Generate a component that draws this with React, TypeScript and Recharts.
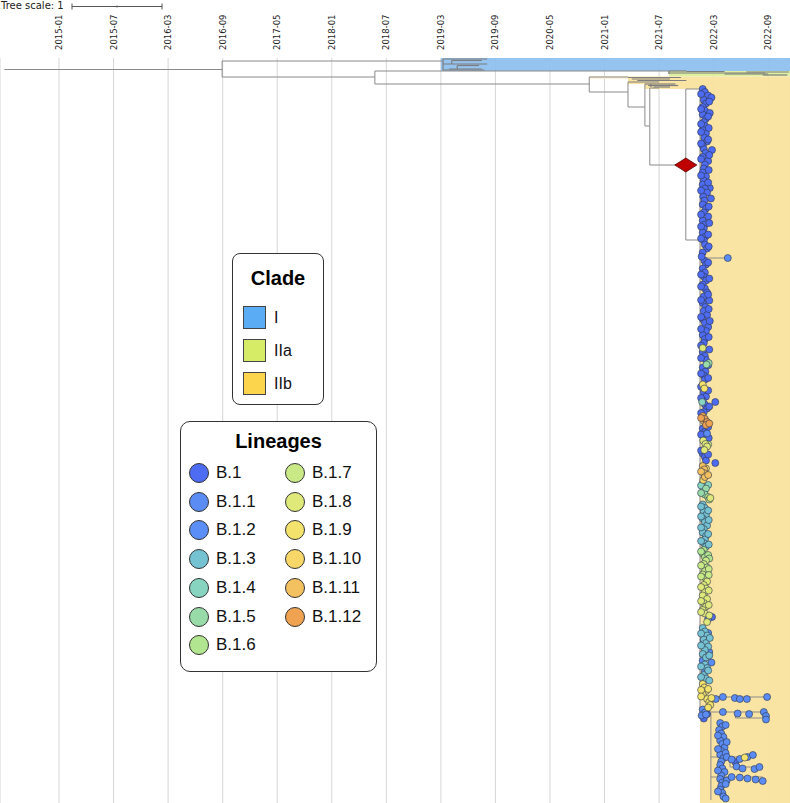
import React from 'react';
import {
  ComposedChart,
  XAxis,
  YAxis,
  CartesianGrid,
  Scatter,
  ReferenceLine,
  ReferenceArea,
  ReferenceDot,
} from 'recharts';

// x values are in tick-step units (tick i sits at x = i), y values in leaf rows
const tickLabels = [
  '2015-01', '2015-07', '2016-03', '2016-09', '2017-05', '2018-01', '2018-07',
  '2019-03', '2019-09', '2020-05', '2021-01', '2021-07', '2022-03', '2022-09',
];
const tickPositions = [0, 1, 2, 3, 4, 5, 6, 7, 8, 9, 10, 11, 12, 13];

type Pt = [number, number];
type Seg = [number, number, number, number];

// main tree branches [x1, y1, x2, y2]
const branches: Seg[] = [
  [-1.0, 4.6, 2.99, 4.6],
  [2.99, 1.2, 2.99, 7.6],
  [2.99, 1.2, 7.04, 1.2],
  [2.99, 7.6, 5.79, 7.6],
  [5.79, 5.2, 5.79, 10.4],
  [5.79, 5.2, 11.18, 5.2],
  [5.79, 10.4, 9.72, 10.4],
  [9.72, 7.6, 9.72, 13.6],
  [9.72, 7.6, 10.43, 7.6],
  [9.72, 13.6, 10.43, 13.6],
  [10.43, 9.6, 10.43, 19.6],
  [10.43, 19.6, 10.74, 19.6],
  [10.74, 10.4, 10.74, 27.2],
  [10.74, 27.2, 10.83, 27.2],
  [10.83, 12.0, 10.83, 42.8],
  [10.83, 12.0, 11.0, 12.0],
  [10.83, 42.8, 11.49, 42.8],
  [11.49, 12.4, 11.49, 72.8],
  [11.49, 12.4, 11.75, 12.4],
  [11.49, 72.8, 11.75, 72.8],
  [11.75, 12.4, 11.75, 262.0],
  [11.76, 80.0, 12.26, 80.0],
  [11.78, 255.6, 12.98, 255.6],
  [11.85, 261.6, 12.96, 261.6],
  [12.4, 261.6, 12.4, 264.0],
  [12.4, 264.0, 12.96, 264.0],
  [11.75, 262.0, 11.95, 262.0],
  [11.95, 262.0, 11.95, 296.8],
  [11.95, 279.6, 12.72, 279.6],
  [12.3, 279.6, 12.3, 283.6],
  [12.3, 283.6, 12.84, 283.6],
  [11.95, 287.6, 12.9, 287.6],
];

// small grey subtrees (clade I, clade IIa and early IIb)
const minorBranches: Seg[] = [
  [7.04, 0.4, 7.04, 4.8],
  [7.04, 0.4, 7.85, 0.4],
  [7.2, 1.0, 7.75, 1.0],
  [7.2, 1.0, 7.2, 2.4],
  [7.04, 2.4, 7.85, 2.4],
  [7.3, 3.0, 7.7, 3.0],
  [7.3, 3.0, 7.3, 4.4],
  [7.15, 4.4, 7.75, 4.4],
  [7.04, 4.8, 7.8, 4.8],
  [11.18, 5.2, 11.18, 6.4],
  [11.18, 5.2, 11.5, 5.2],
  [11.5, 5.4, 12.2, 5.4],
  [11.18, 6.0, 12.95, 6.0],
  [12.2, 6.4, 13.0, 6.4],
  [12.9, 6.8, 13.35, 6.8],
  [12.6, 5.6, 13.38, 5.6],
  [10.43, 7.8, 11.4, 7.8],
  [10.5, 8.4, 11.2, 8.4],
  [10.6, 9.0, 11.5, 9.0],
  [10.43, 9.6, 11.0, 9.6],
  [10.74, 10.4, 11.3, 10.4],
  [10.8, 11.0, 11.35, 11.0],
  [10.85, 10.4, 10.85, 11.6],
  [10.9, 11.6, 11.2, 11.6],
];

const tipsB1: Pt[] = [
  [11.8, 12.4], [11.84, 13.6], [11.9, 15.0], [11.96, 15.8], [11.82, 16.8], [11.86, 18.2],
  [11.8, 19.6], [11.84, 21.0], [11.93, 22.0], [11.8, 22.6], [11.86, 24.2], [11.82, 25.6],
  [11.84, 27.2], [11.8, 28.8], [11.86, 30.2], [11.83, 31.8], [11.88, 33.4], [11.8, 35.0],
  [11.97, 36.8], [11.82, 36.4], [11.85, 38.0], [11.8, 39.6], [11.9, 41.2], [11.84, 42.6],
  [11.82, 44.2], [11.8, 45.8], [11.86, 47.4], [11.82, 49.0], [11.8, 50.6], [11.93, 52.0],
  [11.84, 52.2], [11.88, 53.8], [11.81, 55.4], [11.95, 56.2], [11.83, 57.0], [11.8, 58.6],
  [11.86, 60.2], [11.82, 61.8], [11.9, 63.4], [11.8, 65.0], [11.84, 66.6], [11.82, 68.2],
  [11.8, 69.8], [11.85, 71.4], [11.82, 73.0], [11.84, 74.6], [11.88, 76.2], [11.8, 77.8],
  [11.83, 81.0], [11.86, 82.6], [11.8, 84.2], [11.84, 85.8], [11.82, 87.4], [11.86, 89.0],
  [11.8, 90.6], [11.84, 92.2], [11.88, 93.8], [11.82, 95.4], [11.92, 97.0], [11.8, 98.0],
  [11.85, 99.6], [11.82, 101.2], [11.88, 102.8], [11.8, 104.4], [11.84, 106.0], [11.9, 107.6],
  [11.86, 109.2], [11.8, 110.8], [11.84, 112.4], [11.82, 114.0], [11.8, 117.6], [11.84, 119.2],
  [11.86, 120.8], [11.8, 123.8], [11.85, 125.4], [11.82, 127.0], [11.84, 128.6], [11.82, 133.8],
  [11.86, 135.4], [11.8, 137.0], [12.03, 137.6], [11.84, 138.6], [11.88, 140.2], [11.82, 141.6],
  [11.8, 148.2], [11.84, 149.6], [11.82, 151.0], [11.8, 158.2], [11.84, 159.6], [12.03, 162.0],
  [11.86, 161.0], [11.97, 223.6], [11.88, 262.4], [11.82, 264.2], [12.4, 281.6],
  [11.77, 14.4], [11.92, 17.4], [11.77, 20.4], [11.9, 23.4], [11.77, 26.4], [11.91, 28.0],
  [11.77, 29.6], [11.9, 32.6], [11.77, 34.2], [11.92, 38.8], [11.77, 40.4], [11.91, 44.8],
  [11.77, 47.0], [11.9, 49.8], [11.77, 53.0], [11.91, 59.4], [11.77, 62.6], [11.92, 66.0],
  [11.77, 67.4], [11.9, 70.6], [11.77, 72.2], [11.91, 75.4], [11.78, 79.4], [11.9, 81.8],
  [11.77, 86.6], [11.92, 88.2], [11.77, 91.4], [11.9, 94.6], [11.77, 96.8], [11.91, 100.4],
  [11.77, 103.6], [11.93, 105.2], [11.77, 108.4], [11.91, 111.6], [11.77, 115.0], [11.92, 116.6],
  [11.77, 120.0], [11.9, 122.9], [11.77, 126.2], [11.9, 128.0], [11.77, 131.5], [11.9, 133.0],
  [11.77, 136.0], [11.92, 139.4], [11.77, 142.0], [11.9, 147.6], [11.77, 150.6], [11.91, 152.0],
  [11.77, 157.0], [11.9, 158.6],
];
const tipsB1_1: Pt[] = [
  [12.26, 80.0], [11.88, 150.2], [11.9, 224.4], [11.9, 230.0], [11.82, 233.0], [11.92, 237.6],
  [11.8, 241.0], [11.96, 241.8], [11.84, 245.4], [11.8, 260.6], [11.84, 261.8], [11.78, 263.0],
  [11.86, 262.6], [12.12, 266.0], [12.16, 267.4], [12.1, 268.8], [12.14, 270.2], [12.18, 271.6],
  [12.12, 273.0], [12.16, 274.4], [12.2, 275.8], [12.14, 277.2], [12.12, 278.6], [12.18, 280.0],
  [12.14, 281.4], [12.12, 282.8], [12.16, 284.2], [12.2, 285.6], [12.14, 287.0], [12.12, 288.4],
  [12.16, 289.8], [12.14, 291.2], [12.12, 292.6], [12.16, 294.0], [12.18, 295.4],
  [12.22, 266.8], [12.08, 271.0], [12.24, 273.6], [12.08, 276.4], [12.22, 278.0], [12.08, 285.0],
  [12.24, 289.0], [12.08, 293.4], [12.22, 296.2],
  [12.17, 255.6], [12.39, 256.0], [12.48, 256.4], [12.61, 256.4], [12.98, 255.6],
  [12.17, 261.6], [12.44, 262.2], [12.65, 262.4], [12.92, 261.6], [12.96, 263.2], [12.96, 264.6],
  [12.24, 279.6], [12.33, 280.6], [12.48, 280.4], [12.62, 279.6], [12.72, 278.8],
  [12.42, 283.4], [12.53, 284.2], [12.75, 284.4], [12.84, 283.6],
  [12.33, 287.6], [12.48, 287.8], [12.62, 288.2], [12.77, 288.6], [12.9, 289.2],
];
const tipsB1_2: Pt[] = [[11.86, 186.0], [12.04, 256.4], [12.22, 290.4]];
const tipsB1_3: Pt[] = [
  [11.8, 178.6], [11.84, 180.0], [11.82, 181.4], [11.86, 182.8], [11.8, 184.2], [11.84, 185.6],
  [11.88, 187.0], [11.82, 188.4], [11.8, 189.8], [11.86, 191.2], [11.84, 192.6], [11.82, 194.0],
  [11.86, 195.4], [11.8, 228.0], [11.84, 229.4], [11.88, 231.0], [11.82, 232.6], [11.86, 234.0],
  [11.9, 235.4], [11.84, 236.8], [11.8, 238.4], [11.86, 239.8], [11.84, 242.6], [11.88, 244.0],
  [11.82, 246.8], [11.86, 248.2],
  [11.77, 179.4], [11.9, 181.0], [11.77, 183.4], [11.91, 184.8], [11.77, 187.8], [11.9, 190.4],
  [11.77, 193.2], [11.91, 194.6], [11.77, 230.2], [11.93, 232.0], [11.77, 235.0], [11.92, 239.0],
  [11.77, 243.4], [11.9, 245.0], [11.77, 247.6], [11.92, 249.0],
];
const tipsB1_4: Pt[] = [[11.79, 137.6], [11.8, 170.2], [11.84, 171.6], [11.82, 173.0], [11.77, 171.0], [11.9, 170.8]];
const tipsB1_5: Pt[] = [[11.91, 122.0], [11.87, 122.6], [11.86, 172.2], [11.84, 174.6], [11.77, 174.0]];
const tipsB1_6: Pt[] = [
  [11.9, 175.6], [11.92, 176.6], [11.82, 196.8], [11.8, 198.2], [11.84, 199.6],
  [11.77, 197.4], [11.9, 198.8], [11.92, 200.2],
];
const tipsB1_7: Pt[] = [
  [11.9, 154.6], [11.86, 201.0], [11.82, 202.4], [11.88, 203.8], [11.84, 205.2], [11.8, 206.6],
  [11.85, 208.0], [11.77, 203.0], [11.91, 204.4], [11.77, 207.4], [11.91, 206.8],
];
const tipsB1_8: Pt[] = [
  [11.8, 116.0], [11.81, 153.0], [11.85, 154.4], [11.88, 155.4], [11.83, 156.8], [11.94, 176.0],
  [11.88, 209.4], [11.82, 210.8], [11.86, 212.2], [11.84, 213.6], [11.8, 215.0], [11.88, 216.4],
  [11.82, 218.0], [11.86, 219.4], [11.8, 220.8], [11.84, 222.2], [11.88, 225.6],
  [11.77, 211.6], [11.91, 213.0], [11.77, 217.2], [11.91, 218.8], [11.77, 221.6], [11.92, 223.0],
];
const tipsB1_9: Pt[] = [
  [11.8, 130.6], [11.83, 132.2], [11.8, 250.4], [11.83, 251.8], [11.86, 253.2], [11.8, 254.6],
  [11.9, 252.4], [11.88, 256.4], [11.92, 257.6], [11.96, 256.0], [11.94, 258.8], [11.9, 259.8],
  [12.57, 279.8], [11.77, 252.8], [11.77, 255.4],
];
const tipsB1_10: Pt[] = [[11.86, 164.2], [11.81, 168.8]];
const tipsB1_11: Pt[] = [
  [11.82, 145.2], [11.8, 163.2], [11.83, 164.6], [11.82, 166.0], [11.84, 167.6],
  [11.77, 165.4], [11.9, 166.8],
];
const tipsB1_12: Pt[] = [[11.8, 143.2], [11.84, 144.4], [11.88, 145.6], [11.86, 146.8], [11.77, 144.0], [11.92, 146.2]];

const lineageNames = [
  'B.1', 'B.1.1', 'B.1.2', 'B.1.3', 'B.1.4', 'B.1.5', 'B.1.6',
  'B.1.7', 'B.1.8', 'B.1.9', 'B.1.10', 'B.1.11', 'B.1.12',
];
const lineageColors = [
  '#4e6cf2', '#5a8cf4', '#5b8ef6', '#74c2d2', '#87d5c0', '#98dba8', '#b2e58f',
  '#c8e986', '#dfe97a', '#f3e36c', '#f6d767', '#f4c160', '#efa350',
];
const lineageTips = [
  tipsB1, tipsB1_1, tipsB1_2, tipsB1_3, tipsB1_4, tipsB1_5, tipsB1_6,
  tipsB1_7, tipsB1_8, tipsB1_9, tipsB1_10, tipsB1_11, tipsB1_12,
];

const cladeNames = ['I', 'IIa', 'IIb'];
const cladeColors = ['#5aacf5', '#d7ec66', '#fcd54c'];

const FONT = '"Liberation Sans", Arial, sans-serif';

function DateTick(props: any) {
  const { x, y, payload } = props;
  const bx = x + 3;
  return (
    <text
      x={bx}
      y={y}
      transform={`rotate(-90, ${bx}, ${y})`}
      fontSize={8.5}
      fontFamily="DejaVu Sans"
      fill="#222"
      textAnchor="start"
    >
      {tickLabels[payload.value]}
    </text>
  );
}

const makeDot = (color: string) => (p: any) =>
  <circle cx={p.cx} cy={p.cy} r={3.5} fill={color} stroke="#2d3448" strokeWidth={0.6} />;

const Diamond = (p: any) => (
  <polygon
    points={`${p.cx - 11},${p.cy} ${p.cx},${p.cy - 7} ${p.cx + 11},${p.cy} ${p.cx},${p.cy + 7}`}
    fill="#bf0000"
    stroke="#5a0000"
    strokeWidth={0.8}
  />
);

export default function App() {
  return (
    <div style={{ position: 'absolute', left: 0, top: 0, width: 790, height: 803, background: '#fff' }}>
      <ComposedChart width={790} height={803} margin={{ top: 0, right: 0, bottom: 0, left: 0 }}>
        <CartesianGrid horizontal={false} stroke="#d6d6d6" />
        <XAxis
          type="number"
          dataKey="x"
          orientation="top"
          domain={[-1.082, 13.4]}
          ticks={tickPositions}
          tick={<DateTick />}
          tickSize={0}
          tickMargin={8}
          height={58}
          axisLine={false}
          tickLine={false}
          allowDataOverflow
          interval={0}
        />
        <YAxis type="number" dataKey="y" domain={[0, 298]} reversed hide allowDataOverflow />

        <ReferenceArea x1={7.0} x2={13.4} y1={0} y2={5.2} fill="#8cbff0" fillOpacity={0.92} stroke="none" />
        <ReferenceArea x1={11.18} x2={13.4} y1={5.2} y2={7.4} fill="#dcee9a" fillOpacity={0.92} stroke="none" />
        <ReferenceArea x1={9.72} x2={10.43} y1={7.2} y2={8.4} fill="#fdf3d6" fillOpacity={0.9} stroke="none" />
        <ReferenceArea x1={10.43} x2={13.4} y1={7.4} y2={10.4} fill="#fae29c" fillOpacity={0.92} stroke="none" />
        <ReferenceArea x1={10.74} x2={13.4} y1={10.4} y2={12.4} fill="#fae29c" fillOpacity={0.92} stroke="none" />
        <ReferenceArea x1={11.75} x2={13.4} y1={12.4} y2={298} fill="#fae29c" fillOpacity={0.92} stroke="none" />

        {minorBranches.map(([x1, y1, x2, y2], i) => (
          <ReferenceLine
            key={'m' + i}
            segment={[{ x: x1, y: y1 }, { x: x2, y: y2 }]}
            stroke="#7d7d7d"
            strokeWidth={1.2}
            ifOverflow="visible"
          />
        ))}
        {branches.map(([x1, y1, x2, y2], i) => (
          <ReferenceLine
            key={'b' + i}
            segment={[{ x: x1, y: y1 }, { x: x2, y: y2 }]}
            stroke="#8a8a8a"
            strokeWidth={1}
            ifOverflow="visible"
          />
        ))}

        {lineageTips.map((tips, i) => (
          <Scatter
            key={lineageNames[i]}
            name={lineageNames[i]}
            data={tips.map(([x, y]) => ({ x, y }))}
            shape={makeDot(lineageColors[i])}
            isAnimationActive={false}
          />
        ))}

        <ReferenceDot x={11.49} y={42.8} r={8} shape={Diamond} ifOverflow="visible" />
      </ComposedChart>

      {/* tree scale */}
      <div style={{ position: 'absolute', left: 1, top: 0, fontFamily: 'DejaVu Sans', fontSize: 10, color: '#222', lineHeight: '12px' }}>
        Tree scale: 1
      </div>
      <svg style={{ position: 'absolute', left: 70, top: 1 }} width={96} height={10}>
        <line x1={2} y1={5.5} x2={92} y2={5.5} stroke="#555" strokeWidth={1} />
        <line x1={2} y1={2.5} x2={2} y2={8.5} stroke="#555" strokeWidth={1} />
        <line x1={92} y1={2.5} x2={92} y2={8.5} stroke="#555" strokeWidth={1} />
        <line x1={47} y1={4.5} x2={47} y2={6.5} stroke="#555" strokeWidth={1} />
      </svg>

      {/* clade legend */}
      <div
        style={{
          position: 'absolute', left: 232, top: 253, width: 90, height: 150,
          border: '1px solid #333', borderRadius: 8, background: '#fff', fontFamily: FONT,
        }}
      >
        <div style={{ textAlign: 'center', fontWeight: 'bold', fontSize: 20, marginTop: 13 }}>Clade</div>
        {cladeNames.map((c, i) => (
          <div key={c} style={{ position: 'absolute', left: 10, top: 52 + i * 33, display: 'flex', alignItems: 'center' }}>
            <div style={{ width: 21, height: 21, background: cladeColors[i], border: '1px solid #444' }} />
            <span style={{ marginLeft: 8, fontSize: 16, color: '#111' }}>{c}</span>
          </div>
        ))}
      </div>

      {/* lineage legend */}
      <div
        style={{
          position: 'absolute', left: 180, top: 421, width: 195, height: 249,
          border: '1px solid #333', borderRadius: 10, background: '#fff', fontFamily: FONT,
        }}
      >
        <div style={{ textAlign: 'center', fontWeight: 'bold', fontSize: 20, marginTop: 8 }}>Lineages</div>
        {lineageNames.map((n, i) => {
          const col = i < 7 ? 0 : 1;
          const row = i < 7 ? i : i - 7;
          return (
            <div
              key={n}
              style={{
                position: 'absolute', left: 8 + col * 96, top: 41 + row * 28.7,
                display: 'flex', alignItems: 'center', height: 20,
              }}
            >
              <div
                style={{
                  width: 18, height: 18, borderRadius: '50%', background: lineageColors[i],
                  border: '1px solid #333',
                }}
              />
              <span style={{ marginLeft: 7, fontSize: 17, color: '#111' }}>{n}</span>
            </div>
          );
        })}
      </div>
    </div>
  );
}
